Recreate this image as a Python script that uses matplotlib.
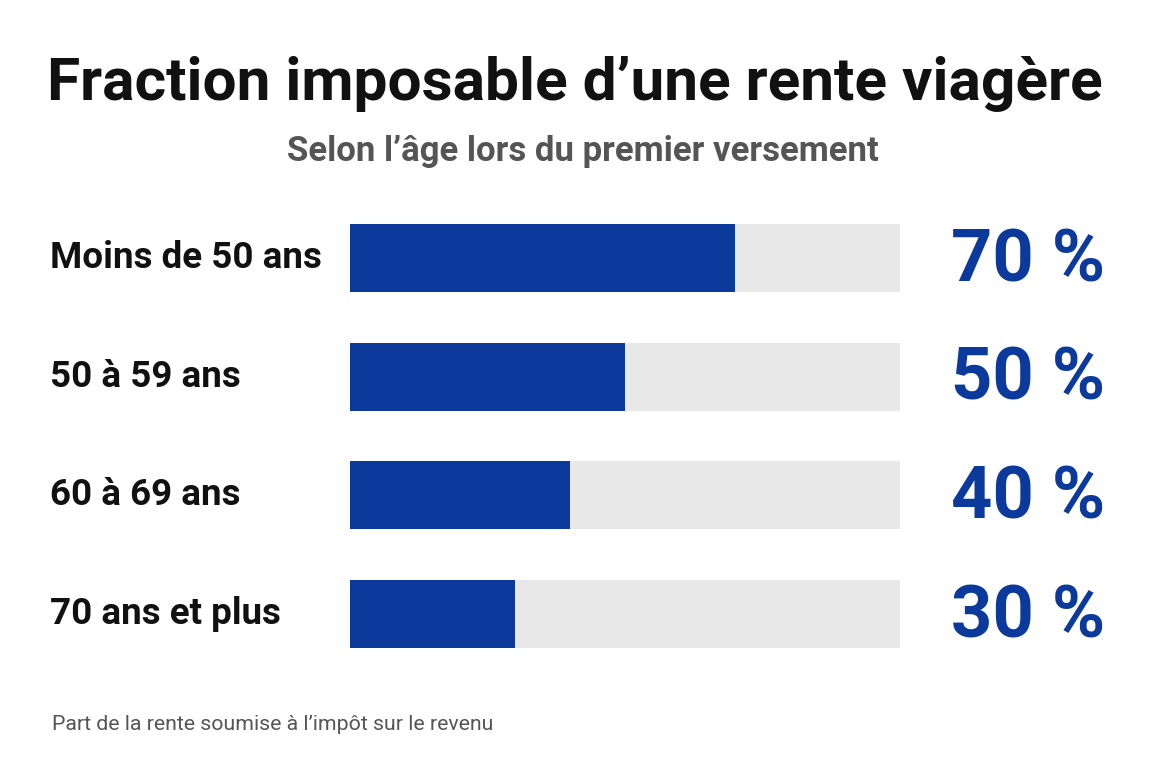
import matplotlib
matplotlib.use("Agg")
import matplotlib.pyplot as plt
from matplotlib.transforms import blended_transform_factory

categories = ["Moins de 50 ans", "50 à 59 ans", "60 à 69 ans", "70 ans et plus"]
values = [70, 50, 40, 30]
value_labels = ["70 %", "50 %", "40 %", "30 %"]

title = "Fraction imposable d’une rente viagère"
subtitle = "Selon l’âge lors du premier versement"
footnote = "Part de la rente soumise à l’impôt sur le revenu"

BLUE = "#0b3a9c"
TRACK = "#e8e8e8"
FONT = ["Roboto", "DejaVu Sans"]

W, H = 1152, 768
fig = plt.figure(figsize=(W / 100, H / 100), dpi=100)
fig.patch.set_facecolor("white")

ax = fig.add_axes([350 / W, 1 - 673.3 / H, 550 / W, 474.6 / H])
y = list(range(len(categories)))
ax.barh(y, [100] * len(values), height=0.573, color=TRACK, zorder=1)
ax.barh(y, values, height=0.573, color=BLUE, zorder=2)
ax.set_xlim(0, 100)
ax.set_ylim(3.5, -0.5)
ax.axis("off")

tr = blended_transform_factory(fig.transFigure, ax.transData)
for i, (c, v) in enumerate(zip(categories, value_labels)):
    ax.text(50 / W, i, c, transform=tr, ha="left", va="center",
            fontsize=26.5, fontweight="bold", family=FONT, color="#111111")
    ax.text(1105 / W, i + 0.03, v, transform=tr, ha="right", va="center",
            fontsize=52, fontweight="bold", family=FONT, color=BLUE)

fig.text(0.5 * (50 + 1100) / W, 1 - 84 / H, title, ha="center", va="center",
         fontsize=43.5, fontweight="bold", family=FONT, color="#111111")
fig.text(0.5 * (285 + 880) / W, 1 - 152 / H, subtitle, ha="center", va="center",
         fontsize=25, fontweight="semibold", family=FONT, color="#555555")
fig.text(52 / W, 1 - 724 / H, footnote, ha="left", va="center",
         fontsize=15.3, family=FONT, color="#555555")

fig.savefig("out.png", dpi=100, facecolor="white")
